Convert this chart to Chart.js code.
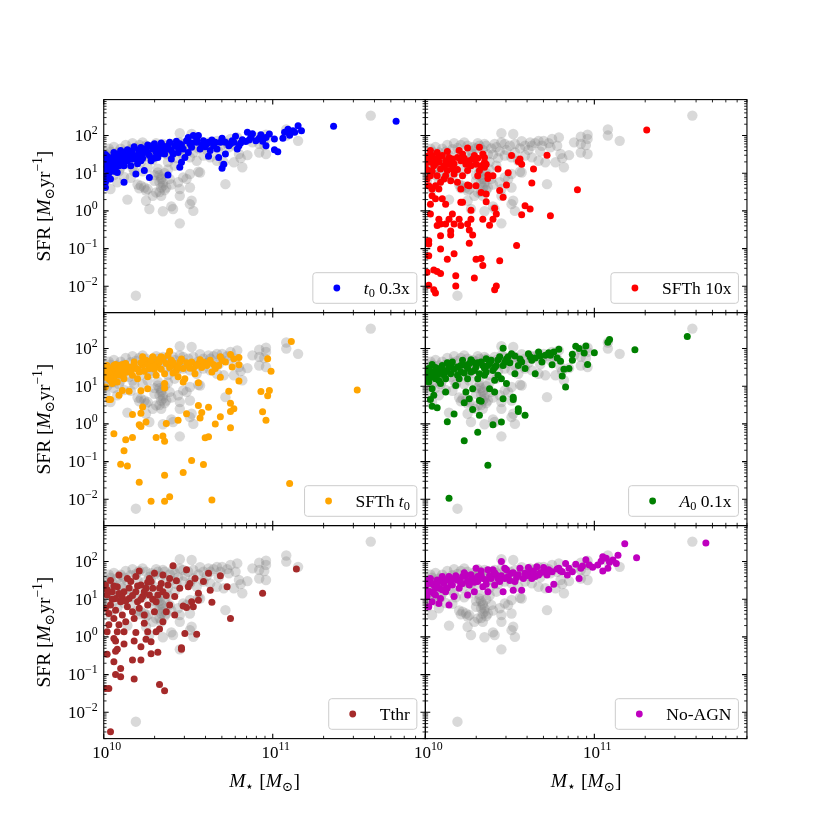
<!DOCTYPE html>
<html>
<head>
<meta charset="utf-8">
<title>SFR vs stellar mass</title>
<script src="https://cdn.jsdelivr.net/npm/chart.js@4.4.1/dist/chart.umd.min.js"></script>
<style>
    html, body { margin: 0; padding: 0; background: #fff; }
    #fig { position: relative; width: 830px; height: 830px; }
    #fig canvas { position: absolute; left: 0; top: 0; }
</style>
</head>
<body>
<div id="fig"></div>
<script>
/* ========================================================================
   SFR - stellar mass, six model variants against the reference run
   values are [log10(Mstar / 1e10 Msun), log10(SFR / Msun per yr)]
   ======================================================================== */

const massRange = [1e10, 8e11];
const sfrRange = [2e-3, 900];

// reference run, grey in every panel
const grayRef = [
    [0.45,2.06],[0.52,2.04],[1.08,2.16],[1.08,2.00],[1.15,1.86],[1.58,2.53],
    [0.96,2.02],[0.96,1.91],[0.92,1.97],[0.88,1.82],[0.92,1.78],[0.95,1.75],[0.96,1.51],[0.92,1.55],
    [0.85,1.48],[0.81,1.40],[0.80,1.51],[0.79,1.95],[0.78,1.73],[0.75,1.91],[0.74,1.69],[0.70,1.86],
    [0.69,1.73],[0.67,1.86],[0.63,1.73],[0.62,1.82],[0.59,1.73],[0.56,1.66],[0.53,1.78],[0.50,1.73],
    [0.47,1.78],[0.45,1.82],[0.42,1.69],[0.39,1.66],[0.36,1.73],[0.35,1.78],[0.32,1.73],[0.30,1.66],
    [0.28,1.69],[0.25,1.73],[0.21,1.75],[0.19,1.67],[0.16,1.64],[0.12,1.57],[0.08,1.55],[0.04,1.57],[0.01,1.52],
    [0.47,1.47],[0.51,1.42],[0.55,1.33],[0.59,1.47],[0.63,1.42],[0.67,1.33],[0.71,1.29],[0.77,1.29],
    [0.82,1.16],[0.56,1.04],[0.51,0.98],[0.47,0.89],[0.44,0.76],[0.45,0.58],[0.51,0.62],[0.72,0.71],
    [0.57,1.02],[0.49,0.85],[0.39,0.85],
    [0.41,0.05],[0.40,0.12],[0.53,0.00],[0.52,0.27],[0.51,0.18],[0.35,-0.01],[0.27,0.05],[0.25,0.27],
    [0.14,0.30],[0.45,0.40],[0.34,0.40],[0.31,0.49],[0.29,0.40],[0.25,0.54],[0.21,0.60],[0.22,0.67],
    [0.33,0.76],[0.35,0.67],[0.32,1.02],[0.34,0.89],[0.45,-0.33],[0.19,-2.25],
    [0.33,0.95],[0.34,0.85],[0.35,0.75],[0.34,0.62],[0.36,0.55],[0.33,0.50],[0.32,1.12],[0.36,1.00],
    [0.24,0.62],[0.20,0.70],[0.26,0.58],[0.08,0.76],[0.04,0.58],[0.12,0.90],[0.06,0.95],[0.02,1.00],
    [0.03,1.20],[0.07,1.30],[0.10,1.15],[0.15,1.25],[0.18,1.05],[0.22,1.30],[0.26,1.15],[0.29,1.35],
    [0.38,1.30],[0.42,1.20],[0.02,1.38],[0.05,1.45],[0.10,1.40],[0.14,1.48],[0.20,1.50],[0.24,1.45],
    [0.28,1.52],[0.40,1.50],[0.44,1.58],[0.01,0.80],[0.09,1.05],[0.16,0.88],
    [0.00,1.20],[0.03,1.65],[0.06,1.70],[0.10,1.65],[0.13,1.75],[0.17,1.80],[0.23,1.82],[0.27,1.60],
    [0.31,1.80],[0.34,1.62],[0.37,1.50],[0.41,1.78],[0.43,1.40],[0.48,1.62],[0.53,1.55],[0.57,1.85],
    [0.61,1.62],[0.65,1.80],[0.68,1.58],[0.73,1.80],[0.05,1.10],[0.11,1.30],[0.17,1.15],[0.23,1.05],
    [0.27,1.40],[0.30,0.80],[0.38,1.10],[0.40,0.70],[0.30,0.95],[0.37,0.62]
];

// t0 0.3x
const runT03 = [
    [1.15,2.26],[1.17,2.13],[1.12,2.13],[1.09,2.17],[1.07,2.09],[1.06,1.93],[1.10,2.01],[1.13,2.09],
    [1.01,1.62],[1.03,1.57],[1.01,1.91],[0.98,2.04],[0.96,1.73],[0.96,1.95],[0.92,1.93],[0.90,1.86],
    [0.87,1.95],[0.85,2.09],[0.84,1.84],[0.82,1.89],[0.80,1.73],[0.79,1.64],[0.77,1.82],[0.76,1.86],
    [0.74,1.73],[0.72,1.82],[0.70,1.93],[0.69,1.82],[0.67,1.64],[0.68,1.42],[0.71,1.24],[0.70,1.13],
    [0.72,1.51],[0.65,1.73],[0.62,1.82],[0.61,1.78],[0.62,1.45],[0.59,1.86],[0.57,1.64],[0.56,2.00],
    [0.53,2.00],[0.55,1.82],[0.52,1.69],[0.51,1.78],[0.50,1.55],[0.49,1.86],[0.48,1.42],[0.47,1.64],
    [0.46,1.29],[0.45,1.16],[0.45,1.78],[0.44,1.55],[0.42,1.73],[0.41,1.51],[0.39,1.82],[0.40,1.38],
    [0.38,0.95],[0.37,1.64],[0.36,1.51],[0.35,1.73],[0.33,1.64],[0.32,1.42],[0.31,1.55],[0.30,1.78],
    [0.29,1.64],[0.28,1.33],[0.27,1.47],[0.27,0.89],[0.25,1.64],[0.24,1.07],[0.23,1.51],[0.22,1.33],
    [0.21,1.55],[0.19,0.98],[0.19,1.38],[0.18,1.47],[0.17,1.60],[0.16,1.20],[0.15,1.47],[0.14,1.33],
    [0.13,1.55],[0.12,0.76],[0.12,1.20],[0.11,1.42],[0.10,1.29],[0.09,1.51],[0.08,1.02],[0.07,1.33],
    [0.06,1.20],[0.05,1.42],[0.04,0.85],[0.04,1.07],[0.03,1.29],[0.02,1.16],[0.01,0.62],[0.01,0.93],
    [0.01,1.38],[0.01,0.76],[0.00,1.11],[1.36,2.25],[1.73,2.38],
    [0.02,1.45],[0.06,1.55],[0.10,1.60],[0.14,1.62],[0.18,1.70],[0.22,1.68],[0.26,1.75],[0.34,1.80],
    [0.43,1.85],[0.55,1.90],[0.60,1.70],[0.64,1.88],[0.78,1.98],[0.88,2.05],[0.93,2.02],[0.03,1.00],
    [0.07,1.15],[0.20,1.25],[0.30,1.40],[0.50,1.95],
    [0.00,1.25],[0.01,1.50],[0.02,0.85],[0.03,1.40],[0.04,1.20],[0.05,1.30],[0.06,1.05],[0.08,1.42],
    [0.09,1.20],[0.11,1.55],[0.12,1.35],[0.14,1.45],[0.16,1.52],[0.17,1.38],[0.20,1.45],[0.21,1.62],
    [0.23,1.40],[0.24,1.58],[0.26,1.55],[0.28,1.72],[0.31,1.68],[0.33,1.52],[0.35,1.60],[0.38,1.72],
    [0.40,1.60],[0.44,1.68],[0.46,1.75],[0.52,1.80],[0.58,1.75],[0.63,1.60],[0.66,1.82],[0.75,1.78],
    [0.81,1.80],[0.86,1.88],[0.94,1.85]
];

// SFTh 10x
const runSFTh10 = [
    [0.90,0.56],[0.72,1.48],[0.74,-0.13],[0.63,0.74],[0.64,1.11],[0.62,0.05],[0.59,0.14],[0.57,-0.10],
    [0.54,-0.92],[0.57,1.24],[0.56,1.38],[0.55,1.31],[0.51,1.47],[0.49,1.01],[0.48,0.69],[0.46,0.36],
    [0.44,0.54],[0.43,1.11],[0.40,0.93],[0.37,0.86],[0.35,1.29],[0.35,1.42],[0.34,1.51],[0.32,1.69],
    [0.33,1.20],[0.31,0.93],[0.30,0.67],[0.32,1.07],[0.33,0.49],[0.36,0.24],[0.36,0.45],[0.41,0.07],
    [0.42,-0.08],[0.38,-0.38],[0.40,-0.22],[0.34,-0.22],[0.27,0.02],[0.27,-0.22],[0.28,-0.64],[0.26,-0.51],
    [0.25,-0.35],[0.26,-0.86],[0.20,-0.22],[0.21,-0.39],[0.17,-0.35],[0.16,-0.08],[0.14,-0.22],[0.15,-0.53],
    [0.15,-0.64],[0.12,-0.35],[0.09,-0.35],[0.08,-0.22],[0.09,-0.66],[0.09,-1.01],[0.07,-0.39],[0.17,-1.14],
    [0.13,-1.28],[0.33,-1.26],[0.34,-1.45],[0.30,-1.28],[0.29,-1.78],[0.44,-1.32],[0.42,-1.99],[0.41,-2.09],
    [0.18,-1.72],[0.18,-1.99],[0.09,-1.66],[0.07,-1.61],[0.05,-1.57],[0.01,-1.63],[0.05,-2.09],[0.06,-2.18],
    [0.02,-1.97],[0.02,-0.79],[0.02,-0.88],[0.02,-1.19],[0.03,-0.08],[0.03,0.18],[0.04,0.40],[0.06,0.32],
    [0.10,0.32],[0.12,0.18],[0.21,0.23],[0.22,0.23],[0.21,0.58],[0.26,0.67],[0.25,0.69],[0.19,0.76],
    [0.22,0.93],[0.17,0.98],[0.15,0.80],[0.11,0.85],[0.09,0.76],[0.08,0.58],[0.06,0.67],[0.04,0.58],
    [0.02,0.67],[0.01,0.85],[0.25,1.67],[0.20,1.60],[0.19,1.42],[0.21,1.33],[0.16,1.38],[0.14,1.24],
    [0.12,1.33],[0.10,1.47],[0.08,1.42],[0.06,1.38],[0.04,1.47],[0.02,1.42],[0.01,1.29],[0.05,1.20],
    [0.09,1.11],[0.13,1.07],[0.16,1.11],[0.24,1.24],[0.26,1.33],[0.28,1.38],[0.30,1.24],[0.25,1.07],
    [0.02,1.07],[0.03,0.93],[0.07,0.93],[0.12,0.93],[0.22,1.51],[0.29,1.47],[0.35,1.16],[0.36,1.24],
    [0.37,0.95],[1.31,2.15],[0.03,1.60],[0.07,1.55],[0.13,1.58],
    [0.00,1.15],[0.01,1.45],[0.03,1.30],[0.04,1.05],[0.06,1.25],[0.08,1.30],[0.11,1.20],[0.14,1.42],
    [0.17,1.25],[0.19,1.10],[0.23,1.40],[0.27,1.20],[0.31,1.40]
];

// SFTh t0
const runSFThT0 = [
    [1.11,2.19],[1.50,0.90],[1.10,-1.58],[0.97,1.73],[0.99,1.40],[0.98,0.89],[0.97,0.75],[0.93,0.86],
    [0.94,0.32],[0.96,0.10],[0.80,1.14],[0.80,1.57],[0.80,1.76],[0.77,1.73],[0.76,1.51],[0.74,0.87],
    [0.75,0.55],[0.77,0.40],[0.75,0.33],[0.75,-0.10],[0.69,1.24],[0.69,0.19],[0.66,0.00],[0.62,0.44],
    [0.62,-0.34],[0.60,-0.37],[0.59,-1.08],[0.58,0.30],[0.57,0.16],[0.56,0.49],[0.56,1.09],[0.52,-0.97],
    [0.49,0.27],[0.44,0.10],[0.47,-1.29],[0.39,-1.93],[0.37,0.01],[0.36,-1.36],[0.36,-2.05],[0.35,-0.32],
    [0.36,-0.46],[0.31,-0.36],[0.28,-2.05],[0.25,0.05],[0.23,0.45],[0.22,-0.07],[0.21,-0.02],[0.22,0.28],
    [0.21,-1.55],[0.17,0.25],[0.17,-0.36],[0.13,-0.42],[0.14,-1.12],[0.12,-0.71],[0.10,-1.07],[0.06,-0.26],
    [0.64,-2.02],[0.04,0.65],[0.09,0.76],
    [0.39,1.93],[0.38,1.82],[0.40,1.69],[0.42,1.55],[0.43,1.42],[0.45,1.64],[0.47,1.47],[0.48,1.20],
    [0.47,1.11],[0.50,1.55],[0.52,1.64],[0.53,1.47],[0.54,1.33],[0.56,1.60],[0.59,1.64],[0.61,1.55],
    [0.63,1.69],[0.64,1.38],[0.66,1.47],[0.69,1.78],[0.72,1.64],[0.75,1.84],[0.35,1.73],[0.33,1.64],
    [0.34,1.78],[0.29,1.78],[0.32,1.55],[0.36,1.33],[0.36,1.07],[0.36,0.95],[0.31,1.29],[0.29,1.60],
    [0.27,1.47],[0.26,0.93],[0.25,1.69],[0.23,1.78],[0.23,1.55],[0.21,1.38],[0.22,0.88],[0.19,1.47],
    [0.18,1.64],[0.17,1.29],[0.16,1.51],[0.15,0.87],[0.14,1.38],[0.13,1.60],[0.12,1.20],[0.11,1.47],
    [0.10,1.29],[0.09,1.55],[0.08,1.11],[0.07,1.38],[0.06,1.24],[0.05,1.47],[0.05,1.07],[0.04,1.33],
    [0.03,1.20],[0.02,1.42],[0.01,0.98],[0.01,1.24],[0.03,0.65],[0.11,0.89],[0.41,1.35],[0.44,1.25],
    [0.58,1.50],[0.68,1.55],[0.02,1.55],[0.07,1.58],[0.15,1.45],[0.20,1.20],[0.26,1.25],[0.30,1.45],
    [0.00,1.30],[0.01,1.50],[0.03,1.38],[0.04,1.15],[0.06,1.55],[0.08,1.30],[0.09,1.45],[0.11,1.58],
    [0.12,1.35],[0.14,1.50],[0.16,1.40],[0.18,1.55],[0.20,1.45],[0.22,1.62],[0.24,1.40],[0.26,1.58],
    [0.28,1.68],[0.30,1.52],[0.32,1.70],[0.34,1.45],[0.37,1.60],[0.39,1.50],[0.41,1.62],[0.44,1.50],
    [0.46,1.72],[0.49,1.62],[0.51,1.48],[0.55,1.55],[0.57,1.70],[0.62,1.62],[0.65,1.58],[0.70,1.68]
];

// A0 0.1x
const runA01 = [
    [1.55,2.32],[1.24,1.97],[1.09,2.24],[1.08,2.17],[1.00,1.89],[0.95,2.07],[0.96,1.58],[0.94,1.88],
    [0.91,2.00],[0.89,2.06],[0.87,1.85],[0.87,1.69],[0.85,1.47],[0.83,0.98],[0.81,1.27],[0.82,1.45],
    [0.80,1.66],[0.79,1.98],[0.75,1.57],[0.76,1.91],[0.73,1.89],[0.71,1.82],[0.69,1.64],[0.67,1.91],
    [0.65,1.33],[0.63,1.69],[0.61,1.86],[0.59,0.23],[0.55,0.40],[0.55,0.33],[0.52,0.65],[0.52,0.71],
    [0.46,0.67],[0.46,2.01],[0.45,0.05],[0.48,1.07],[0.40,-0.02],[0.37,-1.10],[0.32,0.23],[0.31,-0.22],
    [0.28,0.38],[0.23,-0.45],[0.17,0.26],[0.13,0.06],[0.14,-1.97],[0.07,0.43],[0.04,0.47],[0.32,0.62],
    [0.33,0.60],[0.24,0.85],[0.23,0.56],[0.26,0.67],[0.41,0.85],[0.03,0.65],[0.05,0.76],
    [0.51,1.86],[0.49,1.78],[0.47,1.64],[0.44,1.78],[0.42,1.55],[0.40,1.42],[0.39,1.69],[0.37,1.55],
    [0.36,1.73],[0.35,1.29],[0.35,1.47],[0.33,1.64],[0.32,1.33],[0.31,1.20],[0.30,1.51],[0.28,1.64],
    [0.27,1.38],[0.25,1.20],[0.24,1.55],[0.22,1.69],[0.21,1.38],[0.20,1.20],[0.19,1.51],[0.18,1.02],
    [0.16,1.64],[0.15,1.33],[0.14,1.51],[0.12,1.20],[0.11,1.42],[0.10,1.55],[0.09,1.07],[0.08,1.33],
    [0.07,1.47],[0.06,1.20],[0.05,1.38],[0.04,0.93],[0.03,1.24],[0.02,1.47],[0.02,1.11],[0.01,1.33],
    [0.55,1.55],[0.53,1.33],[0.57,1.64],[0.59,1.47],[0.45,1.20],[0.43,1.29],[0.41,1.16],[0.38,0.93],
    [0.28,0.93],[0.12,0.85],[0.65,1.75],[0.53,1.80],[0.27,1.70],[0.13,1.62],[0.04,1.58],
    [0.00,1.20],[0.01,1.45],[0.03,1.35],[0.05,1.25],[0.06,1.50],[0.08,1.15],[0.09,1.42],[0.11,1.30],
    [0.13,1.40],[0.15,1.55],[0.17,1.45],[0.19,1.30],[0.21,1.55],[0.23,1.35],[0.25,1.48],[0.26,1.60],
    [0.29,1.42],[0.31,1.62],[0.34,1.55],[0.36,1.38],[0.38,1.60],[0.41,1.50],[0.43,1.70],[0.46,1.55],
    [0.48,1.72],[0.50,1.62],[0.56,1.72],[0.62,1.78],[0.68,1.80],[0.74,1.82],[0.78,1.75]
];

// Tthr
const runTthr = [
    [1.14,1.80],[0.94,1.16],[0.75,0.49],[0.73,1.33],[0.69,1.62],[0.64,0.92],[0.63,1.24],[0.62,1.69],
    [0.59,1.47],[0.56,0.97],[0.55,0.07],[0.54,1.55],[0.56,1.16],[0.53,0.80],[0.52,0.93],[0.51,1.42],
    [0.50,1.33],[0.49,0.78],[0.48,0.09],[0.46,-0.29],[0.46,-0.33],[0.49,1.78],[0.43,1.49],[0.42,0.58],
    [0.41,1.89],[0.36,-1.43],[0.33,-1.26],[0.32,-0.41],[0.33,0.21],[0.31,0.14],[0.28,-0.13],[0.28,-0.45],
    [0.26,0.14],[0.25,-0.06],[0.22,-0.61],[0.22,-0.26],[0.19,0.12],[0.18,-0.11],[0.17,-0.61],[0.18,-1.12],
    [0.12,-0.19],[0.10,-1.06],[0.10,-0.84],[0.07,-1.00],[0.06,-0.66],[0.08,-0.33],[0.07,-0.38],[0.07,-0.11],
    [0.06,-0.04],[0.02,-0.46],[0.03,-1.37],[0.01,-1.37],[0.04,-2.52],[0.02,0.14],[0.03,0.32],[0.21,1.75],
    [0.30,1.69],[0.35,1.64],[0.09,1.64],
    [0.38,1.38],[0.39,1.55],[0.35,1.20],[0.34,1.42],[0.32,1.11],[0.31,0.93],[0.30,0.67],[0.29,1.29],
    [0.28,1.47],[0.27,1.11],[0.26,0.85],[0.25,1.29],[0.24,0.58],[0.24,0.36],[0.23,1.07],[0.22,1.38],
    [0.21,0.76],[0.20,0.93],[0.19,1.20],[0.18,0.49],[0.17,0.67],[0.16,1.47],[0.15,1.02],[0.14,0.80],
    [0.13,0.40],[0.12,1.20],[0.11,0.58],[0.10,0.93],[0.09,0.32],[0.08,1.33],[0.07,0.71],[0.07,1.02],
    [0.06,0.49],[0.05,1.20],[0.04,0.85],[0.03,0.62],[0.02,1.11],[0.01,1.38],[0.01,0.76],[0.39,0.85],
    [0.42,1.07],[0.45,1.29],[0.47,0.82],[0.37,0.67],[0.35,0.40],[0.12,0.14],[0.08,0.14],[0.14,1.55],
    [0.19,1.60],[0.27,1.55],[0.04,1.50],
    [0.02,1.25],[0.05,1.00],[0.06,1.35],[0.09,1.15],[0.11,1.05],[0.13,0.95],[0.15,1.30],[0.17,1.10],
    [0.20,1.35],[0.22,1.00],[0.24,1.20],[0.26,1.45],[0.29,1.00],[0.33,1.30],[0.37,1.10]
];

// No-AGN
const runNoAGN = [
    [1.66,2.49],[1.18,2.47],[1.25,2.10],[1.14,2.17],[1.11,2.04],[1.13,1.95],[1.09,1.98],[1.08,1.82],
    [1.07,2.09],[1.05,2.13],[1.04,2.01],[1.02,1.91],[1.05,1.75],[0.97,1.91],[0.95,2.05],[0.92,1.82],
    [0.91,1.55],[0.89,1.93],[0.87,1.73],[0.83,1.95],[0.84,1.64],[0.81,1.73],[0.79,1.82],[0.76,1.40],
    [0.73,1.26],[0.75,1.73],[0.72,1.64],[0.70,1.84],[0.67,1.64],[0.66,1.86],[0.63,1.55],[0.61,1.84],
    [0.59,1.69],[0.57,1.24],[0.56,1.82],[0.53,1.47],[0.51,1.69],[0.52,1.24],[0.49,1.60],[0.47,1.82],
    [0.45,2.00],[0.46,1.20],[0.44,1.47],[0.42,1.64],[0.41,1.38],[0.39,1.55],[0.37,1.78],[0.37,1.20],
    [0.36,1.51],[0.34,1.33],[0.33,1.64],[0.31,1.47],[0.30,1.82],[0.29,1.20],[0.28,1.55],[0.26,1.38],
    [0.25,1.11],[0.24,1.64],[0.22,1.42],[0.20,1.29],[0.19,1.51],[0.17,1.07],[0.16,1.38],[0.14,0.85],
    [0.14,1.60],[0.12,1.20],[0.11,1.42],[0.09,1.02],[0.08,1.29],[0.07,1.51],[0.06,1.11],[0.05,1.38],
    [0.04,0.93],[0.03,1.20],[0.02,0.80],[0.02,1.42],[0.01,1.07],[0.08,0.89],
    [0.03,1.55],[0.10,1.60],[0.18,1.62],[0.23,1.70],[0.33,1.75],[0.40,1.78],[0.48,1.78],[0.55,1.65],
    [0.62,1.70],[0.70,1.72],[0.78,1.80],[0.06,1.30],[0.13,1.30],[0.21,1.40],[0.29,1.45],[0.36,1.40],
    [0.43,1.55],[0.50,1.50],[0.58,1.55],[0.65,1.60],
    [0.00,1.30],[0.01,1.50],[0.02,1.20],[0.04,1.42],[0.05,1.15],[0.07,1.35],[0.09,1.48],[0.10,1.25],
    [0.12,1.52],[0.15,1.45],[0.17,1.55],[0.20,1.50],[0.22,1.60],[0.25,1.50],[0.27,1.65],[0.31,1.60],
    [0.34,1.55],[0.38,1.62],[0.41,1.70],[0.45,1.62],[0.47,1.55],[0.52,1.70],[0.54,1.58],[0.60,1.62],
    [0.64,1.75],[0.68,1.70],[0.73,1.78],[0.80,1.75],[0.85,1.82],[0.93,1.88],[0.99,1.85]
];

// legend labels as rich-text pieces (it = italic, sub = subscript)
const panels = [
    { row: 0, col: 0, color: '#0000ff', data: runT03,    label: [{ t: 't', it: true }, { t: '0', sub: true }, { t: ' 0.3x' }] },
    { row: 0, col: 1, color: '#ff0000', data: runSFTh10, label: [{ t: 'SFTh 10x' }] },
    { row: 1, col: 0, color: '#ffa500', data: runSFThT0, label: [{ t: 'SFTh ' }, { t: 't', it: true }, { t: '0', sub: true }] },
    { row: 1, col: 1, color: '#008000', data: runA01,    label: [{ t: 'A', it: true }, { t: '0', sub: true }, { t: ' 0.1x' }] },
    { row: 2, col: 0, color: '#a52a2a', data: runTthr,   label: [{ t: 'Tthr' }] },
    { row: 2, col: 1, color: '#bf00bf', data: runNoAGN,  label: [{ t: 'No-AGN' }] }
];

const yTitle = [{ t: 'SFR [' }, { t: 'M', it: true }, { t: '\u2299', sub: true }, { t: 'yr' }, { t: '\u22121', sup: true }, { t: ']' }];
const xTitle = [{ t: 'M', it: true }, { t: '\u22c6', sub: true }, { t: ' [' }, { t: 'M', it: true }, { t: '\u2299', sub: true }, { t: ']' }];

// figure geometry (matplotlib default subplot box, no gaps)
const FIG = 830;
const X0 = 103.75, Y0 = 99.6;
const PW = 321.6, PH = 213.0;
const FONT = '"Liberation Serif", "DejaVu Serif", serif';
const TICK_SIZE = 17, TITLE_SIZE = 19.5, LEGEND_SIZE = 17.5;

const toPoints = arr => arr.map(([m, s]) => ({ x: 1e10 * Math.pow(10, m), y: Math.pow(10, s) }));

function segFont(s, size) {
    const sz = (s.sub || s.sup) ? size * 0.7 : size;
    return (s.it ? 'italic ' : '') + sz.toFixed(1) + 'px ' + FONT;
}

function richWidth(ctx, segs, size) {
    let w = 0;
    segs.forEach(s => { ctx.font = segFont(s, size); w += ctx.measureText(s.t).width; });
    return w;
}

function drawRich(ctx, segs, x, y, size, align) {
    const w = richWidth(ctx, segs, size);
    let cx = align === 'center' ? x - w / 2 : align === 'right' ? x - w : x;
    ctx.textAlign = 'left';
    ctx.textBaseline = 'alphabetic';
    segs.forEach(s => {
        ctx.font = segFont(s, size);
        const dy = s.sub ? size * 0.22 : s.sup ? -size * 0.42 : 0;
        ctx.fillText(s.t, cx, y + dy);
        cx += ctx.measureText(s.t).width;
    });
    return w;
}

function logTicks(min, max) {
    const out = [];
    for (let d = Math.floor(Math.log10(min)); d <= Math.ceil(Math.log10(max)); d++) {
        for (let k = 1; k <= 9; k++) {
            const v = k * Math.pow(10, d);
            if (v >= min * 0.999 && v <= max * 1.001) out.push({ v, major: k === 1, exp: d });
        }
    }
    return out;
}

const expText = e => (e < 0 ? '\u2212' + (-e) : String(e));

const axisDecor = {
    id: 'axisDecor',
    afterDraw(chart, args, opts) {
        const { ctx, chartArea: a, scales: { x, y } } = chart;
        ctx.save();
        ctx.strokeStyle = '#000';
        ctx.fillStyle = '#000';

        // inward ticks on all four sides
        logTicks(x.min, x.max).forEach(t => {
            const px = x.getPixelForValue(t.v);
            const len = t.major ? 4.9 : 2.8;
            ctx.lineWidth = t.major ? 1.1 : 0.85;
            ctx.beginPath();
            ctx.moveTo(px, a.bottom); ctx.lineTo(px, a.bottom - len);
            ctx.moveTo(px, a.top); ctx.lineTo(px, a.top + len);
            ctx.stroke();
            if (opts.showX && t.major) {
                drawRich(ctx, [{ t: '10' }, { t: expText(t.exp), sup: true }], px + 3, a.bottom + 19, TICK_SIZE, 'center');
            }
        });
        logTicks(y.min, y.max).forEach(t => {
            const py = y.getPixelForValue(t.v);
            const len = t.major ? 4.9 : 2.8;
            ctx.lineWidth = t.major ? 1.1 : 0.85;
            ctx.beginPath();
            ctx.moveTo(a.left, py); ctx.lineTo(a.left + len, py);
            ctx.moveTo(a.right, py); ctx.lineTo(a.right - len, py);
            ctx.stroke();
            if (opts.showY && t.major) {
                drawRich(ctx, [{ t: '10' }, { t: expText(t.exp), sup: true }], a.left - 6, py + 5.5, TICK_SIZE, 'right');
            }
        });

        ctx.lineWidth = 1.1;
        ctx.strokeRect(a.left, a.top, a.right - a.left, a.bottom - a.top);

        // axis titles
        if (opts.showX) drawRich(ctx, xTitle, (a.left + a.right) / 2, a.bottom + 48, TITLE_SIZE, 'center');
        if (opts.showY) {
            ctx.save();
            ctx.translate(50, (a.top + a.bottom) / 2);
            ctx.rotate(-Math.PI / 2);
            drawRich(ctx, yTitle, 0, 0, TITLE_SIZE, 'center');
            ctx.restore();
        }

        // legend, lower right
        const tw = richWidth(ctx, opts.label, LEGEND_SIZE);
        const bw = tw + 58, bh = 30.6;
        const br = a.right - 8.5, bb = a.bottom - 9.3;
        const bl = br - bw, bt = bb - bh;
        ctx.beginPath();
        ctx.roundRect(bl, bt, bw, bh, 3);
        ctx.fillStyle = 'rgba(255,255,255,0.8)';
        ctx.fill();
        ctx.strokeStyle = '#cccccc';
        ctx.lineWidth = 1;
        ctx.stroke();
        ctx.fillStyle = opts.color;
        ctx.beginPath();
        ctx.arc(bl + 24, bt + bh / 2, 3.4, 0, Math.PI * 2);
        ctx.fill();
        ctx.fillStyle = '#000';
        drawRich(ctx, opts.label, br - 7, bt + bh / 2 + 5.5, LEGEND_SIZE, 'right');

        ctx.restore();
    }
};

const fig = document.getElementById('fig');

panels.forEach(p => {
    const cv = document.createElement('canvas');
    cv.width = FIG; cv.height = FIG;
    fig.appendChild(cv);
    const L = X0 + p.col * PW, T = Y0 + p.row * PH;
    new Chart(cv, {
        type: 'scatter',
        data: {
            datasets: [
                { data: toPoints(p.data), backgroundColor: p.color, borderWidth: 0, pointRadius: 3.5 },
                { data: toPoints(grayRef), backgroundColor: 'rgba(128,128,128,0.3)', borderWidth: 0, pointRadius: 5.2 }
            ]
        },
        options: {
            responsive: false, animation: false, events: [], devicePixelRatio: 1,
            layout: { padding: { left: L, top: T, right: FIG - L - PW, bottom: FIG - T - PH } },
            scales: {
                x: { type: 'logarithmic', min: massRange[0], max: massRange[1], display: false },
                y: { type: 'logarithmic', min: sfrRange[0], max: sfrRange[1], display: false }
            },
            plugins: {
                legend: { display: false },
                tooltip: { enabled: false },
                axisDecor: { showX: p.row === 2, showY: p.col === 0, label: p.label, color: p.color }
            }
        },
        plugins: [axisDecor]
    });
});
</script>
</body>
</html>
